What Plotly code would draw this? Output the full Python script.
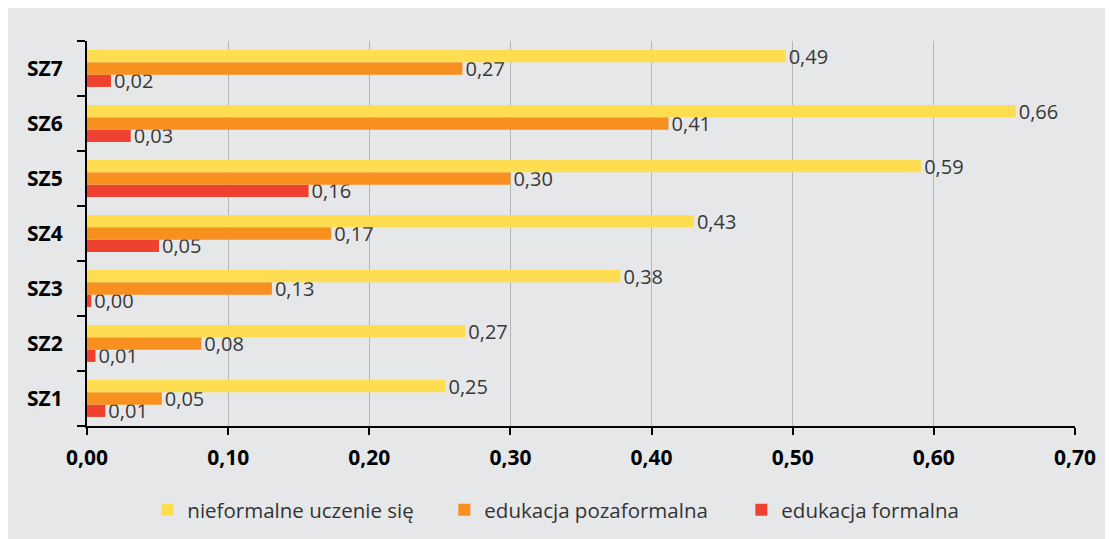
import plotly.graph_objects as go

categories = ["SZ1", "SZ2", "SZ3", "SZ4", "SZ5", "SZ6", "SZ7"]
nieformalne = [0.254, 0.268, 0.378, 0.430, 0.591, 0.658, 0.495]
pozaformalna = [0.053, 0.081, 0.131, 0.173, 0.300, 0.412, 0.266]
formalna = [0.013, 0.006, 0.003, 0.051, 0.157, 0.031, 0.017]
series_names = ["nieformalne uczenie się", "edukacja pozaformalna", "edukacja formalna"]
x_ticks = [0.0, 0.1, 0.2, 0.3, 0.4, 0.5, 0.6, 0.7]
x_tick_labels = ["0,00", "0,10", "0,20", "0,30", "0,40", "0,50", "0,60", "0,70"]

colors = ["#FEDD50", "#F7901E", "#EE4130"]
label_font = dict(family="Open Sans", size=20, color="#383838")

fig = go.Figure()
# add bottom-most bar first (plotly draws grouped h-bars from bottom up)
for name, vals, col in [
    (series_names[2], formalna, colors[2]),
    (series_names[1], pozaformalna, colors[1]),
    (series_names[0], nieformalne, colors[0]),
]:
    fig.add_trace(go.Bar(
        y=categories, x=vals, name=name, orientation="h",
        marker=dict(color=col, line=dict(width=0)),
        texttemplate="%{x:.2f}", textposition="outside",
        textfont=label_font, constraintext="none", cliponaxis=False,
    ))

fig.update_layout(
    width=1113, height=539,
    barmode="group", bargap=0.33, bargroupgap=0,
    separators=", ",
    paper_bgcolor="#E6E7E8", plot_bgcolor="rgba(0,0,0,0)",
    margin=dict(l=79, r=46, t=33, b=121, autoexpand=False),
    font=dict(family="Open Sans", color="#000000"),
    showlegend=True,
    legend=dict(
        orientation="h", x=0.512, xanchor="center", y=-0.218, yanchor="middle",
        traceorder="reversed", font=dict(family="Open Sans", size=20.5, color="#333333"),
        bgcolor="rgba(0,0,0,0)", entrywidth=252, entrywidthmode="pixels",
    ),
)

fig.update_xaxes(
    range=[0, 0.7], tickvals=x_ticks, ticktext=x_tick_labels,
    tickfont=dict(family="Open Sans", size=21, color="#000000", weight="bold"),
    showgrid=True, gridcolor="#B5B5B5", gridwidth=1,
    showline=True, linecolor="#000000", linewidth=2,
    ticks="outside", ticklen=7, tickwidth=2, tickcolor="#000000",
    ticklabelstandoff=5, zeroline=False, automargin=False,
)
fig.update_yaxes(
    categoryorder="array", categoryarray=categories,
    tickfont=dict(family="Open Sans", size=21, color="#000000", weight="bold"),
    showgrid=False, showline=True, linecolor="#000000", linewidth=2,
    ticks="outside", tickson="boundaries", ticklen=8, tickwidth=2, tickcolor="#000000",
    ticklabelstandoff=18, automargin=False,
)

fig.write_html("out.html")
